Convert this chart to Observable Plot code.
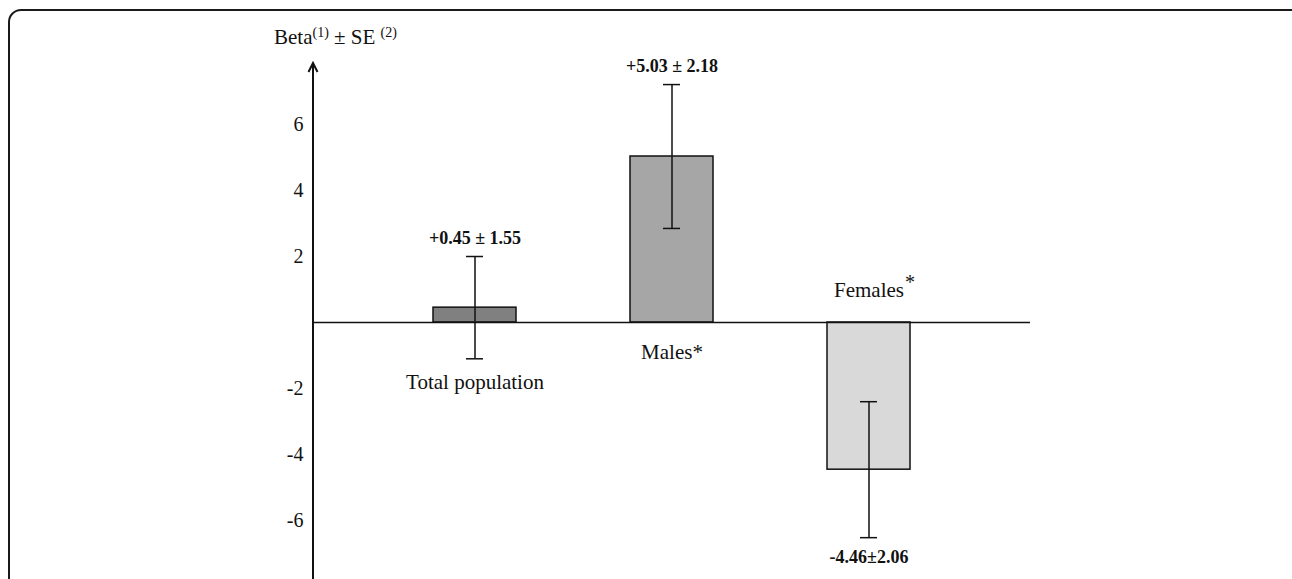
<!DOCTYPE html>
<html><head><meta charset="utf-8">
<script src="https://cdn.jsdelivr.net/npm/d3@7"></script>
<script src="https://cdn.jsdelivr.net/npm/@observablehq/plot@0.6"></script>
<style>
html,body{margin:0;padding:0;background:#fff;}
#wrap{position:relative;width:1292px;height:579px;overflow:hidden;background:#fff;}
#border{position:absolute;left:8px;top:9px;width:1300px;height:700px;border:2px solid #1a1a1a;border-radius:13px;box-sizing:border-box;pointer-events:none;}
#chart{position:absolute;left:0;top:0;}
</style></head><body>
<div id="wrap"><div id="chart"></div><div id="border"></div></div>
<script>
// ---- data ----
const categories = ["Total population", "Males", "Females"];
const betas = [0.45, 5.03, -4.46];
const ses = [1.55, 2.18, 2.06];
const valueLabels = ["+0.45 ± 1.55", "+5.03 ± 2.18", "-4.46±2.06"];
const categoryLabels = ["Total population", "Males*", "Females"];
const yTicks = [6, 4, 2, -2, -4, -6];
const yTitleParts = ["Beta", "(1)", " ± SE ", "(2)"];

const rows = categories.map((c, i) => ({
  cat: c, beta: betas[i], se: ses[i], value: valueLabels[i], name: categoryLabels[i]
}));

const serif = "'Liberation Serif', 'Times New Roman', serif";

function axisLine(index, scales, values, dimensions) {
  const {marginLeft, marginTop, height} = dimensions;
  const g = d3.create("svg:g").attr("stroke", "#111").attr("fill", "none");
  g.append("line").attr("x1", marginLeft).attr("x2", marginLeft)
    .attr("y1", marginTop + 1).attr("y2", height).attr("stroke-width", 2);
  g.append("path").attr("d", `M${marginLeft - 4.5},${marginTop + 9}L${marginLeft},${marginTop}L${marginLeft + 4.5},${marginTop + 9}`)
    .attr("stroke-width", 2);
  return g.node();
}

function axisTitle(index, scales, values, dimensions) {
  const {marginLeft, marginTop} = dimensions;
  const t = d3.create("svg:text").attr("x", marginLeft - 39).attr("y", marginTop - 19)
    .attr("text-anchor", "start")
    .attr("font-family", serif).attr("font-size", 21).attr("fill", "#111");
  t.append("tspan").text(yTitleParts[0]);
  t.append("tspan").attr("dy", -7).attr("font-size", 14).text(yTitleParts[1]);
  t.append("tspan").attr("dy", 7).text(yTitleParts[2]);
  t.append("tspan").attr("dy", -7).attr("font-size", 14).text(yTitleParts[3]);
  return t.node();
}

const isPos = d => d.beta >= 0;

const chart = Plot.plot({
  width: 1292,
  height: 579,
  marginLeft: 313,
  marginRight: 262,
  marginTop: 63,
  marginBottom: 0,
  style: {fontFamily: serif, fontSize: "20px", color: "#111", background: "transparent"},
  x: {type: "band", domain: categories, range: [432.5, 909.5], paddingInner: 0.58, paddingOuter: 0, axis: null},
  y: {domain: [-8, 8], range: [586, 58], ticks: yTicks, tickSize: 0, tickPadding: 10, tickFormat: d => String(d), label: null},
  color: {domain: categories, range: ["#808080", "#a6a6a6", "#d9d9d9"]},
  marks: [
    Plot.barY(rows, {x: "cat", y: "beta", fill: "cat", stroke: "#111", strokeWidth: 1.5}),
    Plot.ruleY([0], {stroke: "#111", strokeWidth: 1.6}),
    Plot.ruleX(rows, {x: "cat", y1: d => d.beta - d.se, y2: d => d.beta + d.se, stroke: "#111", strokeWidth: 1.5}),
    Plot.tickY(rows, {x: "cat", y: d => d.beta + d.se, stroke: "#111", strokeWidth: 1.5, insetLeft: 33, insetRight: 33}),
    Plot.tickY(rows, {x: "cat", y: d => d.beta - d.se, stroke: "#111", strokeWidth: 1.5, insetLeft: 33, insetRight: 33}),
    Plot.text(rows.filter(isPos), {x: "cat", y: d => d.beta + d.se, text: "value", dy: -18, fontSize: 18, fontWeight: "bold", fill: "#111"}),
    Plot.text(rows.filter(d => !isPos(d)), {x: "cat", y: d => d.beta - d.se, text: "value", dy: 20, fontSize: 18, fontWeight: "bold", fill: "#111"}),
    Plot.text(rows.slice(0, 1), {x: "cat", y: d => d.beta - d.se, text: "name", dy: 23, fontSize: 21, fill: "#111"}),
    Plot.text(rows.slice(1, 2), {x: "cat", y: () => 0, text: "name", dy: 30, fontSize: 21, fill: "#111"}),
    Plot.text(rows.slice(2, 3), {x: "cat", y: () => 0, text: "name", dy: -32, fontSize: 21, fill: "#111"}),
    Plot.text(rows.slice(2, 3), {x: "cat", y: () => 0, text: () => "*", dx: 36, dy: -40, textAnchor: "start", fontSize: 20, fill: "#111"}),
    axisLine,
    axisTitle
  ]
});
document.getElementById("chart").appendChild(chart);
</script>
</body></html>
